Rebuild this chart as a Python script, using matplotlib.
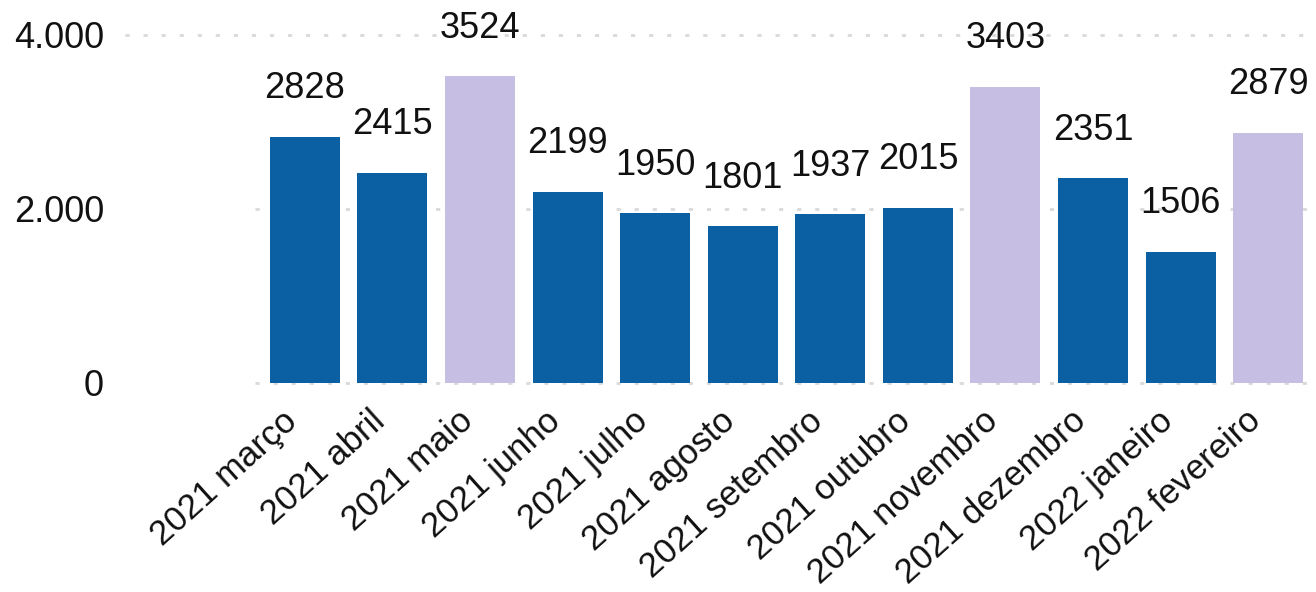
import matplotlib
matplotlib.use("Agg")
import matplotlib.pyplot as plt
from matplotlib.transforms import ScaledTranslation

categories = ["2021 março", "2021 abril", "2021 maio", "2021 junho", "2021 julho",
              "2021 agosto", "2021 setembro", "2021 outubro", "2021 novembro",
              "2021 dezembro", "2022 janeiro", "2022 fevereiro"]
values = [2828, 2415, 3524, 2199, 1950, 1801, 1937, 2015, 3403, 2351, 1506, 2879]
highlight = [False, False, True, False, False, False, False, False, True, False, False, True]
y_ticks = [0, 2000, 4000]
y_tick_labels = ["0", "2.000", "4.000"]

BLUE = "#0b5fa3"
LAVENDER = "#c6bee3"
TEXT = "#111111"

plt.rcParams["font.family"] = ["Liberation Sans", "DejaVu Sans"]

W, H = 1316, 592
fig = plt.figure(figsize=(W / 100, H / 100), dpi=100)
left, right = 261, 1312
top, bottom = 35, 383
ax = fig.add_axes([left / W, 1 - bottom / H, (right - left) / W, (bottom - top) / H])

x = list(range(len(categories)))
colors = [LAVENDER if h else BLUE for h in highlight]
ax.bar(x, values, width=0.8, color=colors, zorder=2)

ax.set_xlim(-0.5, len(categories) - 0.5)
ax.set_ylim(0, 4000)

for xi, v in zip(x, values):
    ax.annotate(str(v), (xi, v), xytext=(0, 22), textcoords="offset points",
                ha="center", va="bottom", fontsize=26, color=TEXT,
                annotation_clip=False)

ax.set_yticks(y_ticks)
ax.set_yticklabels(y_tick_labels, fontsize=26, color=TEXT)
ax.tick_params(axis="y", length=0, pad=113)

ax.set_xticks(x)
ax.set_xticklabels(categories, rotation=42, ha="right", va="center",
                   rotation_mode="anchor", fontsize=25, color=TEXT)
ax.tick_params(axis="x", length=0, pad=24)
shift = ScaledTranslation(-12 / 100, 0, fig.dpi_scale_trans)
for lbl in ax.get_xticklabels():
    lbl.set_transform(lbl.get_transform() + shift)

for t in y_ticks:
    xmin = -0.129 if t == 4000 else -0.006
    ax.axhline(t, xmin=xmin, color="#d9d9d9", lw=2, linestyle=(0, (1.5, 5)),
               zorder=1, clip_on=False)

for s in ax.spines.values():
    s.set_visible(False)

fig.savefig("out.png", dpi=100, facecolor="white")
